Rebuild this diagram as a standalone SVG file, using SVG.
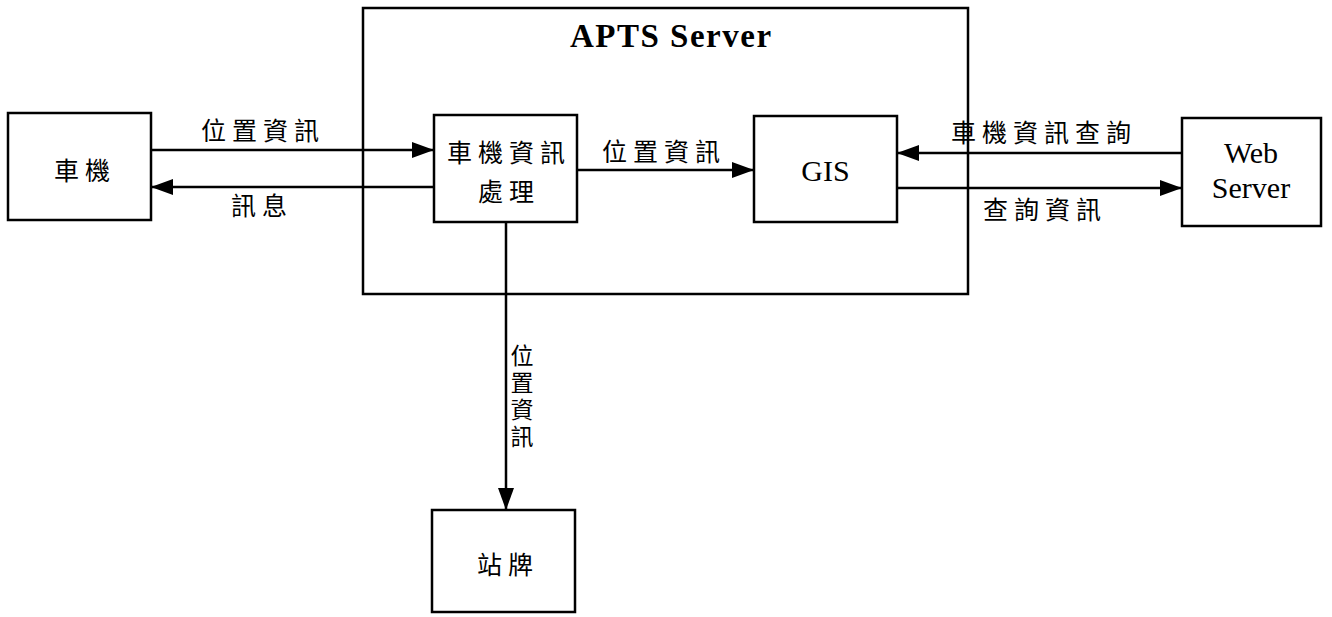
<svg xmlns="http://www.w3.org/2000/svg" width="1332" height="617" viewBox="0 0 1332 617">
<defs>
<marker id="arr" viewBox="0 0 22 16" refX="22" refY="8" markerWidth="22" markerHeight="16" markerUnits="userSpaceOnUse" orient="auto">
<path d="M0,0 L22,8 L0,16 Z" fill="#000"/>
</marker>
</defs>
<style>
.box{fill:#fff;stroke:#000;stroke-width:2.5}
.frame{fill:none;stroke:#000;stroke-width:2.5}
.cn{font-family:"Noto Sans CJK TC","Noto Sans CJK SC",sans-serif;font-size:25px;letter-spacing:6px;fill:#000}
.en{font-family:"Liberation Serif","Times New Roman",serif;font-size:30px;fill:#000}
.title{font-family:"Liberation Serif","Times New Roman",serif;font-size:33px;font-weight:bold;letter-spacing:1.5px;fill:#000}
.conn line{stroke:#000;stroke-width:2.5;marker-end:url(#arr)}
.vert{writing-mode:vertical-rl;font-size:23px;letter-spacing:4px}
</style>
<rect width="1332" height="617" fill="#fff"/>
<g id="apts-server">
<rect class="frame" x="363" y="8" width="605" height="286"/>
<text class="title" x="570" y="47">APTS Server</text>
</g>
<g id="car-unit">
<rect class="box" x="8" y="113" width="143" height="107"/>
<text class="cn" x="54" y="180">車機</text>
</g>
<g id="car-info-processing">
<rect class="box" x="434" y="115" width="143" height="107"/>
<text class="cn" x="447" y="162">車機資訊</text>
<text class="cn" x="478" y="201">處理</text>
</g>
<g id="gis">
<rect class="box" x="754" y="116" width="143" height="106"/>
<text class="en" x="825.5" y="181" text-anchor="middle">GIS</text>
</g>
<g id="web-server">
<rect class="box" x="1182" y="118" width="139" height="108"/>
<text class="en" x="1251" y="163" text-anchor="middle">Web</text>
<text class="en" x="1251" y="198" text-anchor="middle">Server</text>
</g>
<g id="bus-stop-sign">
<rect class="box" x="432" y="510" width="143" height="102"/>
<text class="cn" x="477" y="574">站牌</text>
</g>
<g id="connectors" class="conn">
<line x1="151" y1="150" x2="434" y2="150"/>
<line x1="434" y1="187" x2="151" y2="187"/>
<line x1="577" y1="170" x2="754" y2="170"/>
<line x1="1182" y1="153" x2="897" y2="153"/>
<line x1="897" y1="188" x2="1182" y2="188"/>
<line x1="506" y1="222" x2="506" y2="510"/>
</g>
<g id="connector-labels">
<text class="cn" x="201" y="140">位置資訊</text>
<text class="cn" x="231" y="215">訊息</text>
<text class="cn" x="602" y="161">位置資訊</text>
<text class="cn" x="951" y="142">車機資訊查詢</text>
<text class="cn" x="983" y="219">查詢資訊</text>
<text class="cn vert" x="522" y="344">位置資訊</text>
</g>
</svg>
